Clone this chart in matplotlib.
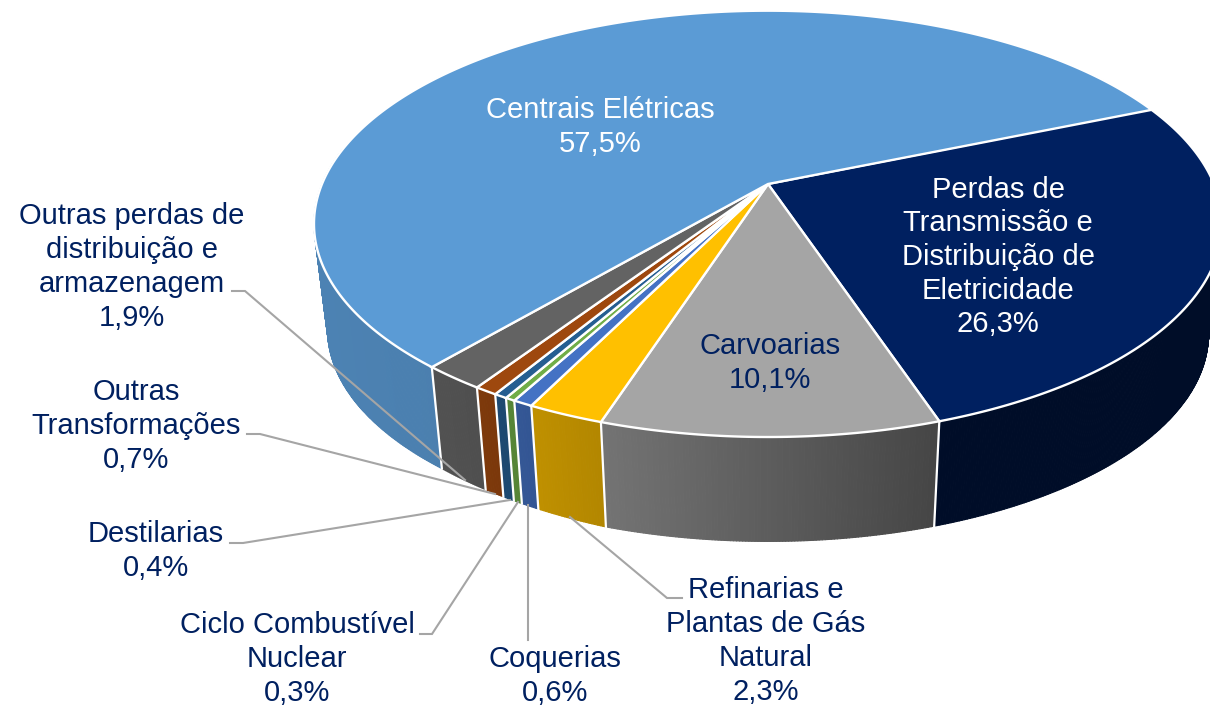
"""Pizza 3D do consumo por setor, desenhada com poligonos em perspectiva."""
import numpy as np
import matplotlib
matplotlib.use('Agg')
import matplotlib.pyplot as plt
from matplotlib.patches import Polygon
from matplotlib.collections import PolyCollection

plt.rcParams['font.family'] = ['Liberation Sans', 'DejaVu Sans']

# Dados, no sentido horario a partir da fatia de Perdas
nomes = ['Perdas de\nTransmissão e\nDistribuição de\nEletricidade', 'Carvoarias',
         'Refinarias e\nPlantas de Gás\nNatural', 'Coquerias',
         'Ciclo Combustível\nNuclear', 'Destilarias',
         'Outras\nTransformações',
         'Outras perdas de\ndistribuição e\narmazenagem', 'Centrais Elétricas']
valores = [26.3, 10.1, 2.3, 0.6, 0.3, 0.4, 0.7, 1.9, 57.5]
cores = ['#002060', '#A5A5A5', '#FFC000', '#4472C4', '#70AD47', '#255E91',
         '#9E480E', '#636363', '#5B9BD5']

# Posicao do rotulo (centro do texto, em pixels) e cor
rotulo_x = [998, 770, 766, 555, 297, 156, 136, 132, 600]
rotulo_y = [257, 363, 641, 676, 659, 551, 426, 267, 127]
rotulo_cor = ['white', '#002060', '#002060', '#002060', '#002060', '#002060',
              '#002060', '#002060', 'white']
# Linhas de chamada: (x, y) em pixels, None para fatias com rotulo interno
chamadas = [None, None,
            [(682, 598), (667, 598), (570, 517)],
            [(528, 640), (528, 505)],
            [(420, 634), (432, 634), (518, 502)],
            [(230, 543), (243, 543), (510, 500)],
            [(247, 434), (260, 434), (495, 494)],
            [(232, 291), (245, 291), (465, 480)],
            None]

# Geometria da perspectiva
CX, CY = 768, 184
RAIO = 446
B = 205.7
A = 0.187
ESCALA_BASE = 0.97
CY_BASE = 296
INICIO = 23.1


def topo(ang):
    """Projeta o angulo (graus) na borda superior."""
    t = np.radians(ang)
    d = 1 + A * np.sin(t)
    return CX + RAIO * np.cos(t) / d, CY - B * np.sin(t) / d


def base(ang):
    """Projeta o angulo (graus) na borda inferior."""
    x, y = topo(ang)
    xb = CX + ESCALA_BASE * (x - CX)
    # a borda inferior sobe um pouco do lado esquerdo
    yb = CY_BASE + ESCALA_BASE * (y - CY) - np.interp(xb, [328, 444, 605], [5, 5, 0])
    return xb, yb


def sombra(x):
    """Escurecimento da lateral conforme a posicao horizontal."""
    return np.interp(x, [320, 440, 600, 940, 1210],
                     [0.84, 0.82, 0.70, 0.42, 0.42])


fig = plt.figure(figsize=(12.1, 7.05), dpi=100)
ax = fig.add_axes([0, 0, 1, 1])
ax.set_xlim(0, 1210)
ax.set_ylim(705, 0)
ax.axis('off')

limites = INICIO - np.cumsum([0] + valores) * 3.6

# Laterais, so a parte da frente aparece
for i in range(len(valores)):
    ini = min(limites[i], 0.0)
    fim = max(limites[i + 1], -190)
    if ini <= fim:
        continue
    ang = np.linspace(ini, fim, int((ini - fim) * 3) + 2)
    xt, yt = topo(ang)
    xb, yb = base(ang)
    tiras = []
    tons = []
    rgb = np.array(matplotlib.colors.to_rgb(cores[i]))
    for j in range(len(ang) - 1):
        tiras.append([(xt[j], yt[j]), (xt[j + 1], yt[j + 1]),
                      (xb[j + 1], yb[j + 1]), (xb[j], yb[j])])
        tons.append(rgb * sombra((xt[j] + xt[j + 1]) / 2))
    ax.add_collection(PolyCollection(tiras, facecolors=tons, edgecolors=tons,
                                     linewidths=0.8, zorder=2))

# Separadores brancos da lateral
for lim in limites[1:]:
    if -190 < lim < 0:
        xt, yt = topo(lim)
        xb, yb = base(lim)
        ax.plot([xt, xb], [yt, yb], color='white', lw=1.6, zorder=3)

# Linhas de chamada ficam sobre a lateral e sob o topo
for c in chamadas:
    if c is not None:
        ax.plot(*zip(*c), color='#A5A5A5', lw=1.5, zorder=4,
                solid_joinstyle='miter')

# Topo
for i in range(len(valores)):
    ang = np.linspace(limites[i], limites[i + 1],
                      max(int(valores[i] * 8), 6))
    x, y = topo(ang)
    pts = [(CX, CY)] + list(zip(x, y))
    ax.add_patch(Polygon(pts, closed=True, facecolor=cores[i],
                         edgecolor='white', lw=1.7, joinstyle='miter',
                         zorder=5))

# Rotulos
for i in range(len(valores)):
    valor = f'{valores[i]:.1f}%'.replace('.', ',')
    ax.text(rotulo_x[i], rotulo_y[i], nomes[i] + '\n' + valor,
            color=rotulo_cor[i], fontsize=21, ha='center', va='center',
            linespacing=1.26, zorder=6)

fig.savefig('out.png', dpi=100)
